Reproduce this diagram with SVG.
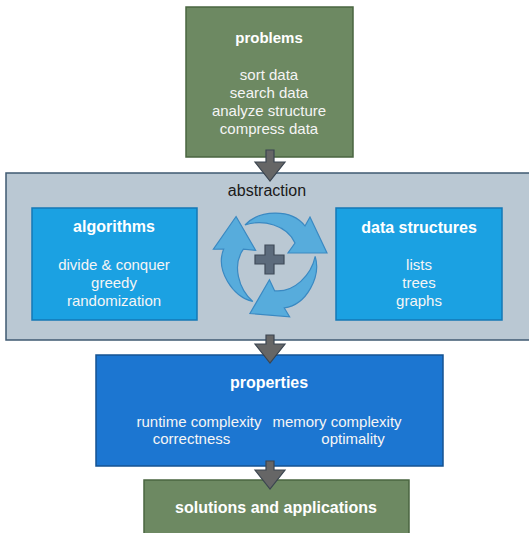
<svg xmlns="http://www.w3.org/2000/svg" width="529" height="533" viewBox="0 0 529 533">
<style>
text{font-family:"Liberation Sans",Arial,sans-serif;font-size:15px;text-anchor:middle;fill:#f5f5f5}
.t{font-weight:bold;font-size:16px;fill:#ffffff}
.green{fill:#6d8962;stroke:#4a6540;stroke-width:1.5}
.lblue{fill:#1ba1e2;stroke:#1478b6;stroke-width:1.5}
.dblue{fill:#1c76d1;stroke:#145392;stroke-width:1.5}
.abs{fill:#bac8d3;stroke:#3f5a72;stroke-width:1.5}
.down{fill:#666666;stroke:#3b4550;stroke-width:1.2}
.cyc{fill:#57acdc;stroke:#3a89c2;stroke-width:1.2}
</style>
<defs>
<path id="cycarrow" d="M-26,-36 C-12,-51 20,-53 34,-35 L39,-44 L56,-8 L17,-8 L24,-18 C16,-36 -8,-42 -26,-36 Z"/>
</defs>
<g id="problems">
<rect class="green" x="186" y="7" width="167" height="150"/>
<text class="t" x="269" y="43" style="font-size:15px">problems</text>
<text x="269" y="80">sort data</text>
<text x="269" y="98">search data</text>
<text x="269" y="116">analyze structure</text>
<text x="269" y="134">compress data</text>
</g>
<g id="abstraction">
<rect class="abs" x="6" y="173" width="530" height="167"/>
<text x="267" y="196" style="fill:#1a1a1a;font-size:16px">abstraction</text>
</g>
<g id="algorithms">
<rect class="lblue" x="32" y="208" width="165" height="112"/>
<text class="t" x="114" y="232">algorithms</text>
<text x="114" y="270">divide &amp; conquer</text>
<text x="114" y="288">greedy</text>
<text x="114" y="306">randomization</text>
</g>
<g id="data-structures">
<rect class="lblue" x="336" y="208" width="166" height="112"/>
<text class="t" x="419" y="233">data structures</text>
<text x="419" y="270">lists</text>
<text x="419" y="288">trees</text>
<text x="419" y="306">graphs</text>
</g>
<g id="cycle">
<g transform="translate(271,261)">
<use href="#cycarrow" class="cyc"/>
<use href="#cycarrow" class="cyc" transform="rotate(120)"/>
<use href="#cycarrow" class="cyc" transform="rotate(240)"/>
</g>
<path d="M265,245 H274 V255 H284 V264 H274 V274 H265 V264 H255 V255 H265 Z" fill="#5c6b7c" stroke="#3e4a58" stroke-width="1.2"/>
</g>
<g id="properties">
<rect class="dblue" x="96" y="355" width="347" height="111"/>
<text class="t" x="269" y="388">properties</text>
<text x="199" y="427">runtime complexity</text>
<text x="337" y="427">memory complexity</text>
<text x="191.5" y="444">correctness</text>
<text x="353" y="444">optimality</text>
</g>
<g id="solutions">
<rect class="green" x="144" y="480" width="265" height="70"/>
<text class="t" x="276" y="513">solutions and applications</text>
</g>
<g id="connectors">
<path class="down" d="M266,150 H274 V162 H285 L270,181 L255,162 H266 Z"/>
<path class="down" d="M266,335 H274 V344 H285 L270,363 L255,344 H266 Z"/>
<path class="down" d="M266,461 H274 V470 H285 L270,489 L255,470 H266 Z"/>
</g>
</svg>
